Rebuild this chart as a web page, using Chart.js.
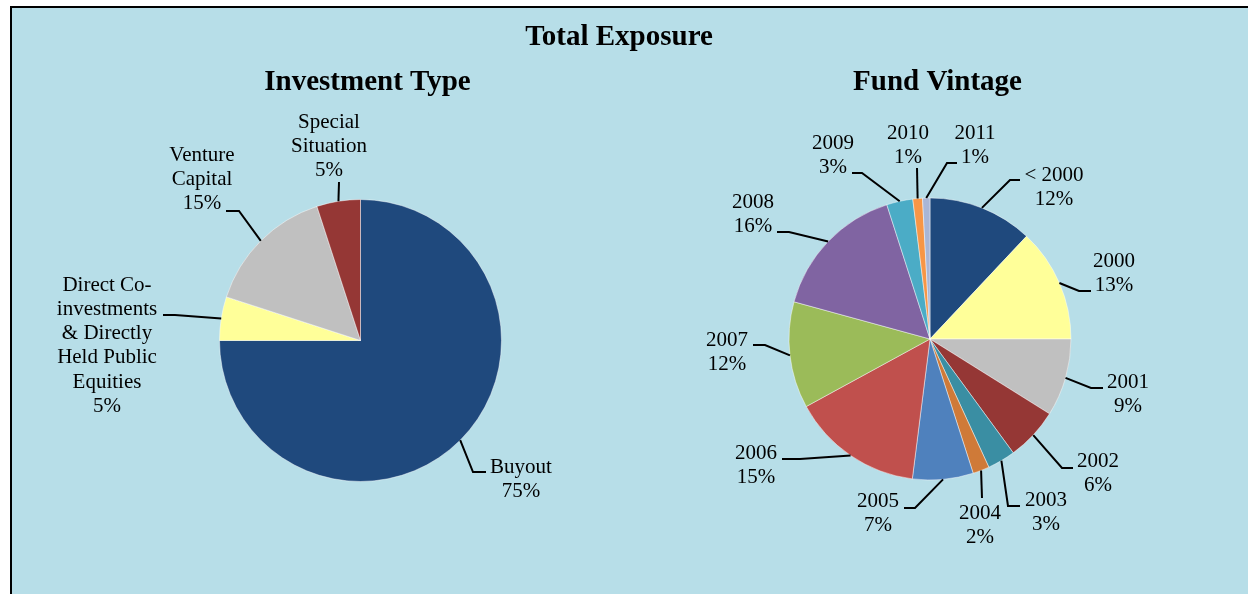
<!DOCTYPE html>
<html><head><meta charset="utf-8">
<script src="https://cdn.jsdelivr.net/npm/chart.js@4/dist/chart.umd.min.js"></script>
<style>
html,body{margin:0;padding:0;background:#fff;width:1248px;height:594px;overflow:hidden;}
#frame{position:absolute;left:10px;top:6px;width:1300px;height:700px;background:#B7DEE8;border-top:2px solid #000;border-left:2px solid #000;}
canvas{position:absolute;left:0;top:0;pointer-events:none;}
</style></head><body>
<div id="frame"></div>
<canvas id="c1" width="1248" height="594"></canvas>
<canvas id="c2" width="1248" height="594"></canvas>
<script>
// ---- data ----
const typeCategories = [['Buyout'], ['Direct Co-','investments','& Directly','Held Public','Equities'], ['Venture','Capital'], ['Special','Situation']];
const typeValues = [75, 5, 15, 5];
const typeColors = ['#1F497D', '#FFFF99', '#C0C0C0', '#953735'];

const vintageCategories = ['< 2000','2000','2001','2002','2003','2004','2005','2006','2007','2008','2009','2010','2011'];
const vintageValues = [12, 13, 8.9, 6.05, 3.2, 1.9, 6.95, 15.05, 12.2, 15.8, 3, 1.1, 0.85];
const vintageColors = ['#1F497D','#FFFF99','#C0C0C0','#953735','#3A8EA3','#CF7A38','#4F81BD','#C0504D','#9BBB59','#8064A2','#4BACC6','#F79646','#A9B6D6'];

// ---- label layout (page px) ----
const typeLabelLayout = [
  {x:521, y:467, elbow:[473,472], end:[486,472]},
  {x:107, y:285, elbow:[175,315], end:[163,315]},
  {x:202, y:155, elbow:[239,211], end:[226,211]},
  {x:329, y:122, elbow:null, end:[339,182]}
];
const vintageLabelLayout = [
  {x:1054, y:175, elbow:[1010,180], end:[1020,180]},
  {x:1114, y:261, elbow:[1079,291], end:[1091,291]},
  {x:1128, y:382, elbow:[1091,388], end:[1103,388]},
  {x:1098, y:461, elbow:[1062,468], end:[1073,468]},
  {x:1046, y:500, elbow:[1008,506], end:[1020,506]},
  {x:980, y:513, elbow:null, end:[982,498]},
  {x:878, y:501, elbow:[915,508], end:[904,508]},
  {x:756, y:453, elbow:[800,459], end:[782,459]},
  {x:727, y:340, elbow:[765,345], end:[753,345]},
  {x:753, y:202, elbow:[789,232], end:[777,232]},
  {x:833, y:143, elbow:[862,173], end:[852,173]},
  {x:908, y:133, elbow:null, end:[917,168]},
  {x:975, y:133, elbow:[947,163], end:[957,163]}
];

const FONT = '"Liberation Serif", "Times New Roman", serif';

const pieLabelsPlugin = {
  id: 'pieLabels',
  afterDatasetsDraw(chart, args, opts) {
    const ctx = chart.ctx;
    const meta = chart.getDatasetMeta(0);
    const ds = chart.data.datasets[0].data;
    const total = ds.reduce((a,b)=>a+b,0);
    ctx.save();
    ctx.strokeStyle = '#000';
    ctx.lineWidth = 2;
    ctx.fillStyle = '#000';
    ctx.font = '21px ' + FONT;
    ctx.textAlign = 'center';
    ctx.textBaseline = 'middle';
    meta.data.forEach((arc, i) => {
      const p = arc.getProps(['x','y','startAngle','endAngle','outerRadius'], true);
      const mid = (p.startAngle + p.endAngle) / 2;
      const ax = p.x + Math.cos(mid) * p.outerRadius;
      const ay = p.y + Math.sin(mid) * p.outerRadius;
      const L = opts.layout[i];
      ctx.beginPath();
      ctx.moveTo(ax, ay);
      if (L.elbow) ctx.lineTo(L.elbow[0], L.elbow[1]);
      ctx.lineTo(L.end[0], L.end[1]);
      ctx.stroke();
      const lbl = chart.data.labels[i];
      const lines = (Array.isArray(lbl) ? lbl.slice() : [lbl]);
      lines.push(Math.round(ds[i] / total * 100) + '%');
      lines.forEach((t, k) => ctx.fillText(t, L.x, L.y + k * 24.3));
    });
    ctx.font = 'bold 29px ' + FONT;
    ctx.textBaseline = 'alphabetic';
    (opts.titles || []).forEach(t => ctx.fillText(t.text, t.x, t.y));
    ctx.restore();
  }
};

function makePie(id, labels, values, colors, padding, layout, titles) {
  return new Chart(document.getElementById(id), {
    type: 'pie',
    data: { labels: labels, datasets: [{ data: values, backgroundColor: colors, borderColor: 'rgba(255,255,255,0.45)', borderWidth: 1 }] },
    options: {
      responsive: false,
      animation: false,
      layout: { padding: padding },
      plugins: {
        legend: { display: false },
        tooltip: { enabled: false },
        title: { display: false },
        pieLabels: { layout: layout, titles: titles }
      }
    },
    plugins: [pieLabelsPlugin]
  });
}

makePie('c1', typeCategories, typeValues, typeColors,
  {left:219, top:199, right:746, bottom:112}, typeLabelLayout,
  [{text:'Total Exposure', x:619, y:45}, {text:'Investment Type', x:367.5, y:90}]);
makePie('c2', vintageCategories, vintageValues, vintageColors,
  {left:788.5, top:197.5, right:176.5, bottom:113.5}, vintageLabelLayout,
  [{text:'Fund Vintage', x:937.5, y:90}]);
</script>
</body></html>
